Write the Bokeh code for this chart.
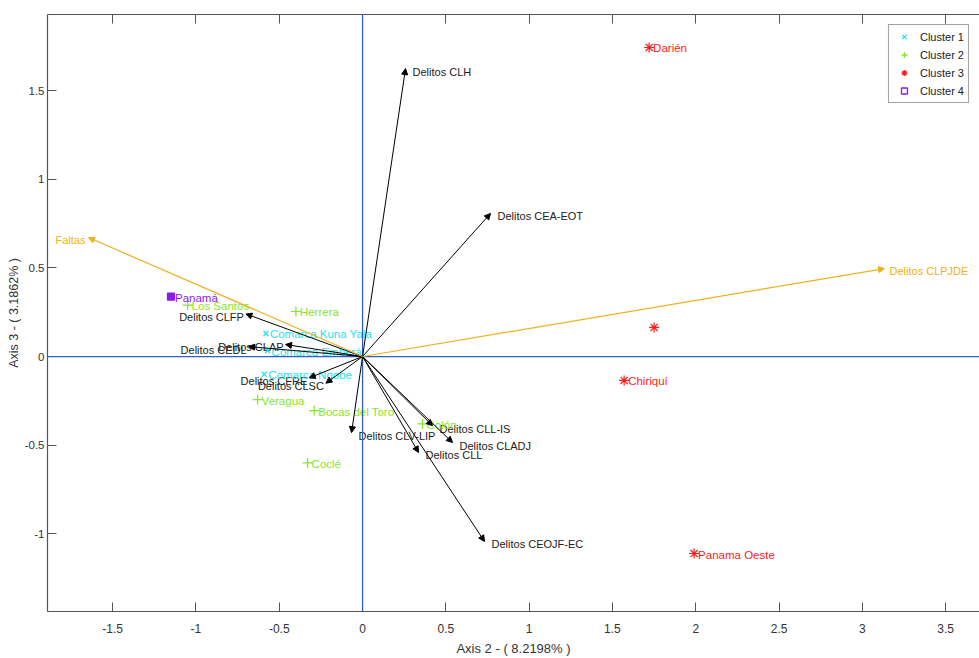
from bokeh.plotting import figure
from bokeh.models import (ColumnDataSource, Arrow, NormalHead, Span, LinearAxis,
                          Legend, LegendItem, FixedTicker)
from bokeh.core.properties import value
from bokeh.embed import file_html
from bokeh.resources import INLINE

# ---------------- data ----------------
obs_names = ["Comarca Kuna Yala", "Comarca Emberá", "Comarca Ngobe",
             "Los Santos", "Herrera", "Veragua", "Bocas del Toro", "Coclé", "Colón",
             "Darién", "", "Chiriquí", "Panama Oeste",
             "Panamá"]
obs_x = [-0.58, -0.57, -0.59,
         -1.05, -0.40, -0.63, -0.29, -0.33, 0.36,
         1.72, 1.75, 1.57, 1.99,
         -1.15]
obs_y = [0.13, 0.034, -0.10,
         0.29, 0.254, -0.243, -0.305, -0.60, -0.38,
         1.743, 0.164, -0.135, -1.111,
         0.338]
obs_cluster = [1, 1, 1,
               2, 2, 2, 2, 2, 2,
               3, 3, 3, 3,
               4]

var_names = ["Delitos CLH", "Delitos CEA-EOT", "Delitos CLFP", "Delitos CEDL",
             "Delitos CLAP", "Delitos CFRE", "Delitos CLSC", "Delitos CLV-LIP",
             "Delitos CLL-IS", "Delitos CLADJ", "Delitos CLL", "Delitos CEOJF-EC"]
var_x = [0.258, 0.768, -0.70, -0.684, -0.462, -0.32, -0.22, -0.066,
         0.42, 0.54, 0.336, 0.732]
var_y = [1.624, 0.807, 0.24, 0.056, 0.068, -0.12, -0.15, -0.429,
         -0.39, -0.485, -0.541, -1.043]

hl_names = ["Faltas", "Delitos CLPJDE"]
hl_x = [-1.645, 3.133]
hl_y = [0.671, 0.496]

cluster_labels = ["Cluster 1", "Cluster 2", "Cluster 3", "Cluster 4"]

x_ticks = [-1.5, -1.0, -0.5, 0.0, 0.5, 1.0, 1.5, 2.0, 2.5, 3.0, 3.5]
y_ticks = [-1.0, -0.5, 0.0, 0.5, 1.0, 1.5]

x_title = "Axis 2 - ( 8.2198% )"
y_title = "Axis 3 - ( 3.1862% )"

# ---------------- style ----------------
FONT = "Liberation Sans"
CL_COLORS = {1: "#19e3ee", 2: "#84e62a", 3: "#ff1a1a", 4: "#8a1cf0"}
CL_MARKERS = {1: "x", 2: "cross", 3: "asterisk", 4: "square"}
CL_SIZES = {1: 7, 2: 10, 3: 10, 4: 7}
ORANGE = "#edb120"
AXCOL = "#555555"
TXT = "#333333"
NAN = float("nan")

p = figure(width=979, height=658, output_backend="svg", toolbar_location=None,
           x_range=(-1.891, 3.703), y_range=(-1.438, 1.929),
           min_border_left=47, min_border_right=0, min_border_top=14,
           min_border_bottom=47)
p.grid.visible = False
p.outline_line_color = None
p.background_fill_color = "white"

for ax in (p.xaxis[0], p.yaxis[0]):
    ax.axis_line_color = AXCOL
    ax.axis_line_width = 1.2
    ax.major_tick_line_color = AXCOL
    ax.major_tick_in = 9
    ax.major_tick_out = 0
    ax.minor_tick_line_color = None
    ax.major_label_text_font = FONT
    ax.major_label_text_font_size = "12px"
    ax.major_label_text_color = TXT
    ax.axis_label_text_font = FONT
    ax.axis_label_text_font_size = "13px"
    ax.axis_label_text_font_style = "normal"
    ax.axis_label_text_color = TXT

p.yaxis.major_label_text_font_size = "11.5px"
p.yaxis.axis_label_text_font_size = "12.5px"
p.xaxis.ticker = FixedTicker(ticks=x_ticks)
p.yaxis.ticker = FixedTicker(ticks=y_ticks)
p.xaxis.major_label_overrides = {t: f"{t:g}" for t in x_ticks}
p.yaxis.major_label_overrides = {t: f"{t:g}" for t in y_ticks}
p.xaxis.axis_label = x_title
p.yaxis.axis_label = y_title
p.xaxis.major_label_standoff = 12
p.xaxis.axis_label_standoff = 5
p.yaxis.major_label_standoff = 3
p.yaxis.axis_label_standoff = 1

top = LinearAxis(ticker=FixedTicker(ticks=x_ticks),
                 major_label_overrides={t: "" for t in x_ticks},
                 major_label_standoff=0, major_tick_in=9, major_tick_out=0,
                 minor_tick_line_color=None, axis_line_color=AXCOL,
                 axis_line_width=1.2, major_tick_line_color=AXCOL)
p.add_layout(top, "above")

# zero lines
p.add_layout(Span(location=0, dimension="height", line_color="#2f5fc4", line_width=1.3))
p.add_layout(Span(location=0, dimension="width", line_color="#2f5fc4", line_width=1.3))

# vectors
vsrc = ColumnDataSource(dict(x0=[0.0] * len(var_x), y0=[0.0] * len(var_x), x1=var_x, y1=var_y))
p.add_layout(Arrow(end=NormalHead(size=6, fill_color="black", line_color="black", line_width=1),
                   x_start="x0", y_start="y0", x_end="x1", y_end="y1", source=vsrc,
                   line_color="black", line_width=1))
hsrc = ColumnDataSource(dict(x0=[0.0] * len(hl_x), y0=[0.0] * len(hl_x), x1=hl_x, y1=hl_y))
p.add_layout(Arrow(end=NormalHead(size=6, fill_color=ORANGE, line_color=ORANGE, line_width=1),
                   x_start="x0", y_start="y0", x_end="x1", y_end="y1", source=hsrc,
                   line_color=ORANGE, line_width=1.2))

def align_of(x):
    return "right" if x < -0.1 else "left"

vl = ColumnDataSource(dict(x=var_x, y=var_y, t=var_names,
                           a=[align_of(x) for x in var_x],
                           xo=[-2 if x < -0.1 else 7 for x in var_x]))
p.text(x="x", y="y", text="t", text_align="a", x_offset="xo", y_offset=3,
       text_baseline="middle", text_font=value(FONT), text_font_size="11px",
       text_color="#222222", source=vl)
hl = ColumnDataSource(dict(x=hl_x, y=hl_y, t=hl_names,
                           a=[align_of(x) for x in hl_x],
                           xo=[-3 if x < -0.1 else 5 for x in hl_x]))
p.text(x="x", y="y", text="t", text_align="a", x_offset="xo", y_offset=2,
       text_baseline="middle", text_font=value(FONT), text_font_size="11px",
       text_color=ORANGE, source=hl)

# observations
legend_items = []
for c, lab in zip([1, 2, 3, 4], cluster_labels):
    idx = [i for i, k in enumerate(obs_cluster) if k == c]
    src = ColumnDataSource(dict(x=[obs_x[i] for i in idx], y=[obs_y[i] for i in idx],
                                t=[obs_names[i] for i in idx]))
    p.scatter(x="x", y="y", source=src, marker=CL_MARKERS[c], size=CL_SIZES[c],
              line_color=CL_COLORS[c], fill_color=CL_COLORS[c], line_width=1.2)
    p.text(x="x", y="y", text="t", source=src, x_offset=4, y_offset=1,
           text_baseline="middle", text_align="left", text_font=value(FONT),
           text_font_size="11.5px", text_color=CL_COLORS[c])
    dummy = p.scatter(x=[NAN], y=[NAN], marker=CL_MARKERS[c], size=CL_SIZES[c] - 1,
                      line_color=CL_COLORS[c],
                      fill_color=None if c == 4 else CL_COLORS[c], line_width=1.3)
    legend_items.append(LegendItem(label=lab, renderers=[dummy]))

leg = Legend(items=legend_items, location="top_right", margin=10, padding=4,
             spacing=3, glyph_width=22, glyph_height=15, label_height=15,
             label_standoff=5,
             label_text_font=FONT, label_text_font_size="11px",
             label_text_color="#222222", border_line_color="#444444",
             border_line_width=1, background_fill_alpha=1.0)
p.add_layout(leg)

open("out.html", "w").write(file_html(p, INLINE))
